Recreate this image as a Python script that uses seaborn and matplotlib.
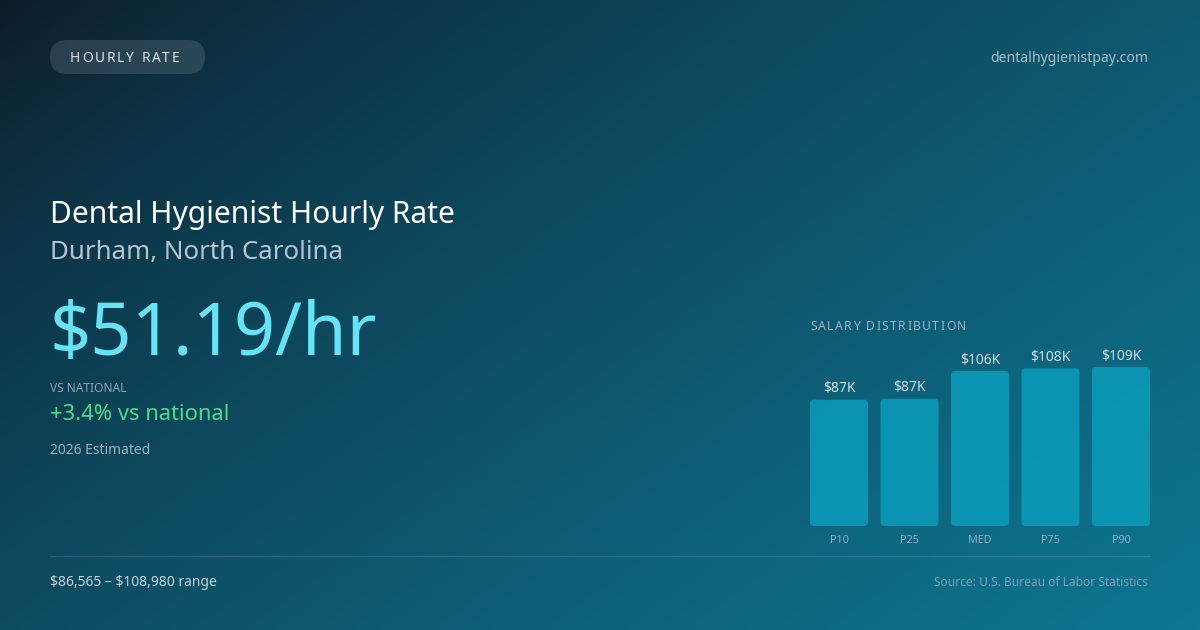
import numpy as np
import pandas as pd
import matplotlib
matplotlib.use("Agg")
import matplotlib.pyplot as plt
import seaborn as sns
from matplotlib.patches import FancyBboxPatch

# salary distribution (thousands of $)
percentiles = ["P10", "P25", "MED", "P75", "P90"]
salaries_k = [86.565, 87.2, 106.3, 108.0, 108.98]
bar_labels = ["$87K", "$87K", "$106K", "$108K", "$109K"]

title = "Dental Hygienist Hourly Rate"
location = "Durham, North Carolina"
hourly = "\\$51.19/hr"
vs_national = "+3.4% vs national"
range_text = "\\$86,565 \u2013 \\$108,980 range"

sns.set_theme(style="white")
plt.rcParams["font.family"] = ["Noto Sans", "DejaVu Sans"]

W, H = 1200, 630
fig = plt.figure(figsize=(12, 6.3), dpi=100)
renderer = fig.canvas.get_renderer()

# background gradient
bg = fig.add_axes([0, 0, 1, 1])
xx, yy = np.meshgrid(np.linspace(0, 1, 300), np.linspace(0, 1, 160))
t = np.clip(0.58 * xx + 0.42 * yy, 0, 1) ** 0.72
c0 = np.array([12, 26, 40]) / 255
c1 = np.array([14, 118, 146]) / 255
img = c0[None, None, :] * (1 - t[..., None]) + c1[None, None, :] * t[..., None]
bg.imshow(img, extent=[0, W, H, 0], aspect="auto")
bg.set_xlim(0, W)
bg.set_ylim(H, 0)
bg.axis("off")


def spaced(x, y, s, spacing, **kw):
    # letter-spaced text, drawn char by char (pixel coords)
    for ch in s:
        txt = bg.text(x, y, ch, ha="left", va="center", **kw)
        w = txt.get_window_extent(renderer).width if ch != " " else None
        if w is None:
            tmp = bg.text(0, 0, "a a", **kw)
            tmp2 = bg.text(0, 0, "aa", **kw)
            w = tmp.get_window_extent(renderer).width - tmp2.get_window_extent(renderer).width
            tmp.remove()
            tmp2.remove()
        x += w + spacing


# pill badge
pill = FancyBboxPatch((50, 40), 155, 34, boxstyle="round,pad=0,rounding_size=17",
                      fc=(1, 1, 1, 0.12), ec="none")
bg.add_patch(pill)
spaced(70, 59, "HOURLY RATE", 1.9, color="#dbe6ee", fontsize=9.8)
bg.text(1148, 59, "dentalhygienistpay.com", color="#a9bccb", fontsize=10.1, ha="right", va="center")

bg.text(50, 215, title, color="white", fontsize=21.6, ha="left", va="center")
bg.text(50, 252, location, color="#b5c6d2", fontsize=18.6, ha="left", va="center")
bg.text(49, 336, hourly, color="#67e3f7", fontsize=52, ha="left", va="center")
bg.text(50, 389, "VS NATIONAL", color="#8fa4b2", fontsize=8.6, ha="left", va="center")
bg.text(50, 415, vs_national, color="#4fd98a", fontsize=15.8, ha="left", va="center")
bg.text(50, 451, "2026 Estimated", color="#9ab0bd", fontsize=10, ha="left", va="center")

bg.plot([50, 1150], [556, 556], color=(1, 1, 1, 0.12), lw=1)
bg.text(50, 583, range_text, color="#c3d2dc", fontsize=10, ha="left", va="center")
bg.text(1148, 583, "Source: U.S. Bureau of Labor Statistics", color="#7f9eb0",
        fontsize=8.6, ha="right", va="center")
spaced(810, 327, "SALARY DISTRIBUTION", 1.4, color="#9db3c1", fontsize=8.8)

# bar chart
pitch = 70.5
bw = 58 / pitch
ax_w = 340
ax_h = 159
ax = fig.add_axes([810 / W, (H - 526) / H, ax_w / W, ax_h / H])
ax.patch.set_alpha(0)
df = pd.DataFrame({"pct": percentiles, "sal": salaries_k})
sns.barplot(data=df, x="pct", y="sal", ax=ax, width=bw, color="#0a9ab8", saturation=1)
ax.set_xlim(-bw / 2, 4 + bw / 2)
ymax = max(salaries_k)
ax.set_ylim(0, ymax)
aspect = (ymax / ax_h) / (1 / pitch)
for p, lab in zip(list(ax.patches), bar_labels):
    x0, w, h = p.get_x(), p.get_width(), p.get_height()
    p.set_visible(False)
    rb = FancyBboxPatch((x0, 0), w, h, boxstyle="round,pad=0,rounding_size=%f" % (4 / pitch),
                        mutation_aspect=aspect, fc="#0a9ab8", ec="none", alpha=0.9)
    ax.add_patch(rb)
    ax.annotate(lab.replace("$", "\\$"), (x0 + w / 2, h), xytext=(0, 7.8), textcoords="offset points",
                ha="center", va="center", color="#d0dee6", fontsize=10, annotation_clip=False)
ax.set_xlabel("")
ax.set_ylabel("")
ax.set_yticks([])
ax.tick_params(axis="x", length=0, pad=6.5, labelsize=7.8, labelcolor="#8fb0c0")
sns.despine(ax=ax, left=True, bottom=True)

fig.savefig("out.png", dpi=100)
